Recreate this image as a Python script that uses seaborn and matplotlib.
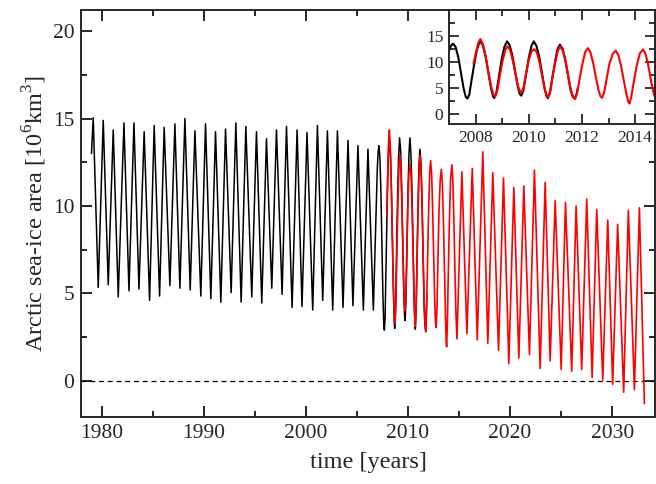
import numpy as np
import pandas as pd
import matplotlib
matplotlib.use("Agg")
import matplotlib.pyplot as plt
from matplotlib.ticker import MultipleLocator
import seaborn as sns

# Observed record, 1979-2006: seasonal maxima / minima (years, 10^6 km^3)
obs_start = (1979.00, 13.0)
obs_max_t = [1979.17, 1980.15, 1981.13, 1982.18, 1983.16, 1984.16, 1985.14, 1986.12,
             1987.17, 1988.15, 1989.13, 1990.17, 1991.15, 1992.13, 1993.14, 1994.12,
             1995.16, 1996.14, 1997.12, 1998.10, 1999.14, 2000.11, 2001.13, 2002.11,
             2003.09, 2004.13, 2005.10, 2006.08]
obs_max_v = [15.05, 14.90, 14.35, 14.75, 14.75, 14.25, 14.60, 14.50,
             14.70, 15.00, 14.30, 14.70, 14.25, 14.40, 14.75, 14.55,
             14.25, 13.85, 14.35, 14.55, 14.35, 14.20, 14.60, 14.30,
             14.30, 13.75, 13.45, 13.25]
obs_min_t = [1979.66, 1980.64, 1981.62, 1982.67, 1983.65, 1984.69, 1985.67, 1986.68,
             1987.66, 1988.67, 1989.71, 1990.69, 1991.67, 1992.68, 1993.66, 1994.70,
             1995.68, 1996.66, 1997.67, 1998.65, 1999.62, 2000.67, 2001.65, 2002.63,
             2003.64, 2004.61, 2005.63, 2006.61]
obs_min_v = [5.35, 5.50, 4.80, 5.15, 5.25, 4.60, 4.85, 5.45,
             5.30, 5.20, 4.85, 4.70, 4.50, 5.05, 4.50, 4.80,
             4.45, 5.30, 4.95, 4.20, 4.25, 4.05, 4.60, 4.05,
             4.20, 4.30, 4.05, 4.05]

# Observed record, 2007-2011: full seasonal cycle
obs_recent_t = [2007.00, 2007.08, 2007.15, 2007.25, 2007.35, 2007.45, 2007.55, 2007.63,
                2007.69, 2007.76, 2007.85, 2007.95, 2008.05, 2008.16, 2008.27, 2008.37,
                2008.47, 2008.57, 2008.65, 2008.70, 2008.78, 2008.88, 2008.98, 2009.08,
                2009.18, 2009.28, 2009.38, 2009.48, 2009.58, 2009.66, 2009.72, 2009.80,
                2009.90, 2010.00, 2010.10, 2010.19, 2010.29, 2010.39, 2010.49, 2010.59,
                2010.67, 2010.72, 2010.80, 2010.90, 2011.00, 2011.08, 2011.17, 2011.27,
                2011.37, 2011.47, 2011.57, 2011.66, 2011.74, 2011.80, 2011.85]
obs_recent_v = [12.2, 13.1, 13.45, 12.8, 10.8, 7.8, 4.8, 3.2,
                2.9, 3.6, 6.5, 9.6, 12.3, 14.0, 13.2, 11.2,
                8.2, 5.2, 3.4, 3.0, 4.0, 7.2, 10.4, 12.8,
                13.9, 13.2, 11.2, 8.3, 5.4, 3.8, 3.45, 4.5,
                7.6, 10.7, 13.0, 13.9, 13.0, 11.0, 8.0, 5.0,
                3.3, 2.95, 4.0, 7.3, 10.3, 12.4, 13.25, 12.5,
                10.5, 7.6, 4.6, 3.2, 2.9, 3.8, 5.0]

# Model run, 2008-2014: full seasonal cycle
mod_early_t = [2007.92, 2008.02, 2008.10, 2008.18, 2008.27, 2008.37, 2008.47, 2008.57,
               2008.66, 2008.74, 2008.82, 2008.92, 2009.02, 2009.12, 2009.20, 2009.30,
               2009.40, 2009.50, 2009.60, 2009.68, 2009.72, 2009.80, 2009.90, 2010.00,
               2010.10, 2010.21, 2010.31, 2010.41, 2010.51, 2010.61, 2010.68, 2010.72,
               2010.80, 2010.90, 2011.00, 2011.10, 2011.19, 2011.29, 2011.39, 2011.49,
               2011.59, 2011.68, 2011.74, 2011.82, 2011.92, 2012.02, 2012.12, 2012.22,
               2012.32, 2012.42, 2012.52, 2012.62, 2012.70, 2012.76, 2012.84, 2012.94,
               2013.04, 2013.16, 2013.27, 2013.37, 2013.47, 2013.57, 2013.67, 2013.74,
               2013.79, 2013.86, 2013.96, 2014.06, 2014.18, 2014.30, 2014.40, 2014.50,
               2014.60, 2014.70, 2014.80]
mod_early_v = [9.5, 12.0, 13.6, 14.35, 13.4, 11.2, 8.3, 5.5,
               3.8, 3.3, 4.5, 7.5, 10.3, 12.3, 12.95, 12.2,
               10.2, 7.6, 5.2, 4.2, 4.0, 5.0, 7.8, 10.3,
               11.9, 12.4, 11.7, 9.7, 7.0, 4.5, 3.4, 3.1,
               4.2, 7.2, 10.0, 12.2, 12.9, 12.0, 9.9, 7.0,
               4.4, 3.1, 2.8, 3.9, 6.9, 9.6, 11.8, 12.6,
               11.8, 9.8, 7.1, 4.6, 3.3, 3.05, 4.1, 7.0,
               9.7, 11.5, 12.1, 11.3, 9.2, 6.5, 3.9, 2.3,
               1.95, 3.3, 6.4, 9.2, 11.6, 12.35, 11.4, 9.2,
               6.3, 3.9, 2.4]

# Model run, 2015-2033: seasonal maxima / minima
mod_max_t = [2015.28, 2016.30, 2017.33, 2018.31, 2019.36, 2020.37, 2021.35, 2022.39,
             2023.44, 2024.42, 2025.43, 2026.47, 2027.51, 2028.49, 2029.57, 2030.54,
             2031.59, 2032.67]
mod_max_v = [11.95, 12.15, 13.10, 11.90, 11.60, 11.05, 11.15, 12.05,
             11.35, 10.30, 10.20, 10.00, 10.40, 9.80, 9.20, 8.95,
             9.75, 9.90]
mod_min_t = [2015.77, 2016.79, 2017.82, 2018.87, 2019.88, 2020.86, 2021.90, 2022.95,
             2023.93, 2025.01, 2026.04, 2027.02, 2028.04, 2029.08, 2030.05, 2031.13,
             2032.18]
mod_min_v = [2.70, 2.35, 2.15, 1.75, 1.00, 1.30, 1.50, 0.70,
             1.15, 0.65, 0.55, 0.65, 0.20, 0.05, -0.20, -0.65,
             -0.50]
mod_end = (2033.16, -1.30)

x_ticks = [1980, 1990, 2000, 2010, 2020, 2030]
y_ticks = [0, 5, 10, 15, 20]
inset_x_ticks = [2008, 2010, 2012, 2014]
inset_y_ticks = [0, 5, 10, 15]


def frame(t, v):
    return pd.DataFrame({"time": t, "area": v}).sort_values("time").reset_index(drop=True)


obs = frame([obs_start[0]] + obs_max_t + obs_min_t + obs_recent_t,
            [obs_start[1]] + obs_max_v + obs_min_v + obs_recent_v)
mod = frame(mod_early_t + mod_max_t + mod_min_t + [mod_end[0]],
            mod_early_v + mod_max_v + mod_min_v + [mod_end[1]])

sns.set_style("ticks")
plt.rcParams["font.family"] = ["Liberation Serif", "DejaVu Serif"]
plt.rcParams["mathtext.fontset"] = "custom"
plt.rcParams["mathtext.rm"] = "Liberation Serif"
plt.rcParams["axes.linewidth"] = 1.4

fig = plt.figure(figsize=(6.56, 4.84), dpi=100)
ax = fig.add_axes([0.1239, 0.139, 0.8746, 0.840])

sns.lineplot(data=obs, x="time", y="area", ax=ax, color="black", lw=1.1,
             sort=False, estimator=None)
sns.lineplot(data=mod, x="time", y="area", ax=ax, color="#ff0000", lw=1.2,
             sort=False, estimator=None)
ax.axhline(0, color="black", lw=0.9, ls=(0, (4, 3)), zorder=1)

ax.set_xlim(1978.0, 2034.2)
ax.set_ylim(-2.05, 21.2)
ax.set_xticks(x_ticks)
ax.set_yticks(y_ticks)
ax.xaxis.set_minor_locator(MultipleLocator(5))
ax.yaxis.set_minor_locator(MultipleLocator(2.5))
ax.tick_params(which="both", direction="in", top=True, right=True, width=1.2,
               labelsize=15.5, color="black")
ax.tick_params(which="major", length=8, pad=5)
ax.tick_params(which="minor", length=4)
ax.set_xlabel("time [years]", fontsize=17.5, labelpad=7)
ax.set_ylabel("Arctic sea-ice area [10$^\\mathregular{6}$km$^\\mathregular{3}$]",
              fontsize=17.5, labelpad=3)

# zoomed view of the overlap period
axi = fig.add_axes([0.6845, 0.7438, 0.314, 0.2352])
axi.set_facecolor("white")
sns.lineplot(data=obs, x="time", y="area", ax=axi, color="black", lw=1.5,
             sort=False, estimator=None)
sns.lineplot(data=mod, x="time", y="area", ax=axi, color="#ff0000", lw=1.5,
             sort=False, estimator=None)
axi.set_xlim(2007.0, 2014.75)
axi.set_ylim(-2.0, 19.9)
axi.set_xticks(inset_x_ticks)
axi.set_yticks(inset_y_ticks)
axi.xaxis.set_minor_locator(MultipleLocator(1))
axi.yaxis.set_minor_locator(MultipleLocator(2.5))
axi.tick_params(which="both", direction="in", top=True, right=True, width=1.1,
                labelsize=12.5, color="black")
axi.tick_params(which="major", length=7, pad=4)
axi.tick_params(which="minor", length=4)
axi.set_xlabel("")
axi.set_ylabel("")

fig.savefig("out.png", dpi=100)
